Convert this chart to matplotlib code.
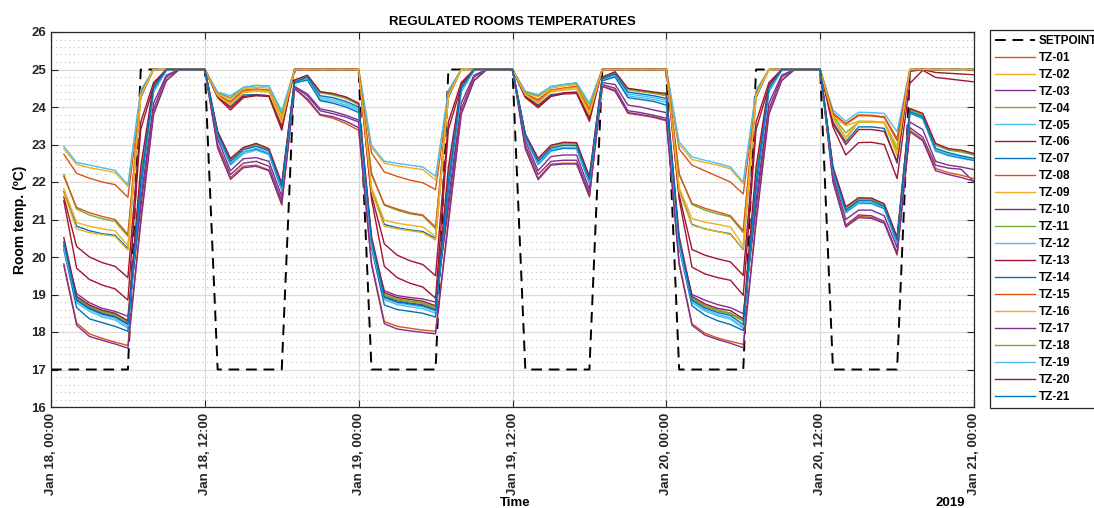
import matplotlib
matplotlib.use("Agg")
import matplotlib.pyplot as plt
import matplotlib.dates as mdates
from matplotlib.ticker import MultipleLocator
import pandas as pd

plt.rcParams['font.family'] = ['Liberation Sans', 'DejaVu Sans']
plt.rcParams['font.weight'] = 'bold'

# hourly room temperatures, Jan 18 01:00 .. Jan 21 00:00 (72 values each)
tz01 = [22.74, 22.23, 22.10, 22.00, 21.93, 21.59, 24.30, 25.0, 25.0, 25.0, 25.0, 25.0,
        24.32, 24.15, 24.45, 24.48, 24.45, 23.65, 25.0, 25.0, 25.0, 25.0, 25.0, 25.0,
        22.78, 22.27, 22.15, 22.05, 21.98, 21.80, 24.30, 25.0, 25.0, 25.0, 25.0, 25.0,
        24.35, 24.20, 24.45, 24.50, 24.55, 23.95, 25.0, 25.0, 25.0, 25.0, 25.0, 25.0,
        22.88, 22.45, 22.30, 22.15, 22.00, 21.68, 24.30, 25.0, 25.0, 25.0, 25.0, 25.0,
        23.80, 23.56, 23.79, 23.78, 23.74, 23.16, 25.0, 25.0, 25.0, 25.0, 25.0, 25.0]
tz02 = [22.88, 22.47, 22.38, 22.32, 22.25, 21.88, 24.40, 25.0, 25.0, 25.0, 25.0, 25.0,
        24.35, 24.22, 24.48, 24.53, 24.50, 23.75, 25.0, 25.0, 25.0, 25.0, 25.0, 25.0,
        22.92, 22.50, 22.43, 22.38, 22.33, 22.05, 24.40, 25.0, 25.0, 25.0, 25.0, 25.0,
        24.38, 24.27, 24.50, 24.56, 24.60, 24.02, 25.0, 25.0, 25.0, 25.0, 25.0, 25.0,
        23.00, 22.60, 22.52, 22.45, 22.35, 21.95, 24.40, 25.0, 25.0, 25.0, 25.0, 25.0,
        23.75, 23.50, 23.62, 23.62, 23.60, 22.95, 25.0, 25.0, 25.0, 25.0, 25.0, 25.0]
tz03 = [20.30, 18.88, 18.65, 18.50, 18.42, 18.20, 21.50, 24.10, 24.85, 25.0, 25.0, 25.0,
        23.15, 22.30, 22.62, 22.65, 22.55, 21.62, 24.55, 24.35, 23.95, 23.88, 23.78, 23.65,
        20.35, 18.95, 18.83, 18.77, 18.73, 18.60, 21.50, 24.10, 24.85, 25.0, 25.0, 25.0,
        23.10, 22.30, 22.68, 22.72, 22.72, 21.80, 24.65, 24.60, 24.05, 24.00, 23.92, 23.85,
        20.35, 18.90, 18.70, 18.58, 18.50, 18.30, 21.50, 24.10, 24.85, 25.0, 25.0, 25.0,
        22.20, 21.00, 21.25, 21.25, 21.10, 20.25, 23.60, 23.40, 22.55, 22.45, 22.40, 22.33]
tz04 = [22.20, 21.28, 21.12, 21.02, 20.95, 20.55, 24.40, 25.0, 25.0, 25.0, 25.0, 25.0,
        24.38, 24.25, 24.52, 24.58, 24.56, 23.83, 25.0, 25.0, 25.0, 25.0, 25.0, 25.0,
        22.25, 21.38, 21.25, 21.15, 21.10, 20.75, 24.40, 25.0, 25.0, 25.0, 25.0, 25.0,
        24.40, 24.30, 24.55, 24.60, 24.63, 24.08, 25.0, 25.0, 25.0, 25.0, 25.0, 25.0,
        22.23, 21.40, 21.25, 21.15, 21.07, 20.65, 24.40, 25.0, 25.0, 25.0, 25.0, 25.0,
        23.75, 23.31, 23.60, 23.60, 23.58, 22.85, 25.0, 25.0, 25.0, 25.0, 25.0, 25.0]
tz05 = [22.95, 22.52, 22.45, 22.38, 22.31, 21.93, 24.45, 25.0, 25.0, 25.0, 25.0, 25.0,
        24.40, 24.30, 24.52, 24.57, 24.55, 23.90, 25.0, 25.0, 25.0, 25.0, 25.0, 25.0,
        22.98, 22.55, 22.50, 22.45, 22.40, 22.15, 24.45, 25.0, 25.0, 25.0, 25.0, 25.0,
        24.42, 24.33, 24.54, 24.60, 24.65, 24.10, 25.0, 25.0, 25.0, 25.0, 25.0, 25.0,
        23.07, 22.67, 22.58, 22.50, 22.40, 22.00, 24.45, 25.0, 25.0, 25.0, 25.0, 25.0,
        23.92, 23.62, 23.86, 23.85, 23.83, 23.34, 25.0, 25.0, 25.0, 25.0, 25.0, 25.0]
tz06 = [21.60, 20.28, 20.00, 19.85, 19.75, 19.45, 23.60, 24.65, 25.0, 25.0, 25.0, 25.0,
        24.25, 23.92, 24.25, 24.30, 24.28, 23.38, 25.0, 25.0, 25.0, 25.0, 25.0, 25.0,
        21.65, 20.35, 20.05, 19.90, 19.80, 19.50, 23.60, 24.65, 25.0, 25.0, 25.0, 25.0,
        24.25, 23.98, 24.28, 24.35, 24.36, 23.62, 25.0, 25.0, 25.0, 25.0, 25.0, 25.0,
        21.65, 20.20, 20.05, 19.95, 19.87, 19.51, 23.60, 24.65, 25.0, 25.0, 25.0, 25.0,
        23.47, 22.72, 23.05, 23.06, 23.00, 22.09, 24.63, 24.98, 24.79, 24.75, 24.71, 24.67]
tz07 = [21.75, 20.82, 20.70, 20.62, 20.58, 20.22, 24.25, 25.0, 25.0, 25.0, 25.0, 25.0,
        24.28, 24.02, 24.32, 24.33, 24.30, 23.50, 25.0, 25.0, 25.0, 25.0, 25.0, 25.0,
        21.80, 20.87, 20.78, 20.72, 20.68, 20.50, 24.25, 25.0, 25.0, 25.0, 25.0, 25.0,
        24.30, 24.05, 24.33, 24.36, 24.38, 23.72, 25.0, 25.0, 25.0, 25.0, 25.0, 25.0,
        21.80, 20.87, 20.75, 20.68, 20.62, 20.20, 24.25, 25.0, 25.0, 25.0, 25.0, 25.0,
        23.60, 23.07, 23.47, 23.47, 23.43, 22.50, 25.0, 25.0, 25.0, 25.0, 25.0, 25.0]
tz08 = [22.15, 21.32, 21.18, 21.08, 21.00, 20.60, 24.35, 25.0, 25.0, 25.0, 25.0, 25.0,
        24.30, 24.10, 24.42, 24.47, 24.44, 23.60, 25.0, 25.0, 25.0, 25.0, 25.0, 25.0,
        22.20, 21.40, 21.28, 21.18, 21.12, 20.80, 24.35, 25.0, 25.0, 25.0, 25.0, 25.0,
        24.33, 24.15, 24.45, 24.50, 24.55, 23.90, 25.0, 25.0, 25.0, 25.0, 25.0, 25.0,
        22.20, 21.43, 21.30, 21.20, 21.10, 20.70, 24.35, 25.0, 25.0, 25.0, 25.0, 25.0,
        23.85, 23.54, 23.77, 23.76, 23.72, 23.10, 25.0, 25.0, 25.0, 25.0, 25.0, 25.0]
tz09 = [21.82, 20.92, 20.82, 20.75, 20.70, 20.30, 24.30, 25.0, 25.0, 25.0, 25.0, 25.0,
        24.30, 24.08, 24.40, 24.45, 24.42, 23.62, 25.0, 25.0, 25.0, 25.0, 25.0, 25.0,
        21.85, 20.98, 20.90, 20.85, 20.80, 20.55, 24.30, 25.0, 25.0, 25.0, 25.0, 25.0,
        24.33, 24.12, 24.43, 24.48, 24.52, 23.85, 25.0, 25.0, 25.0, 25.0, 25.0, 25.0,
        21.85, 21.03, 20.93, 20.87, 20.80, 20.30, 24.30, 25.0, 25.0, 25.0, 25.0, 25.0,
        23.70, 23.13, 23.60, 23.60, 23.58, 22.70, 25.0, 25.0, 25.0, 25.0, 25.0, 25.0]
tz10 = [20.30, 19.02, 18.78, 18.63, 18.55, 18.42, 21.30, 23.95, 24.80, 25.0, 25.0, 25.0,
        23.00, 22.20, 22.50, 22.55, 22.42, 21.50, 24.52, 24.30, 23.90, 23.82, 23.73, 23.60,
        20.35, 19.10, 18.97, 18.92, 18.88, 18.80, 21.30, 23.95, 24.80, 25.0, 25.0, 25.0,
        22.98, 22.20, 22.55, 22.58, 22.58, 21.70, 24.60, 24.50, 23.90, 23.85, 23.78, 23.70,
        20.35, 19.00, 18.85, 18.73, 18.65, 18.49, 21.30, 23.95, 24.80, 25.0, 25.0, 25.0,
        22.10, 20.85, 21.12, 21.10, 20.95, 20.10, 23.45, 23.20, 22.45, 22.37, 22.34, 22.00]
tz11 = [20.40, 18.92, 18.70, 18.55, 18.47, 18.27, 22.20, 24.55, 25.0, 25.0, 25.0, 25.0,
        23.33, 22.60, 22.90, 23.00, 22.87, 21.92, 24.70, 24.83, 24.40, 24.34, 24.25, 24.08,
        20.45, 19.00, 18.88, 18.83, 18.78, 18.66, 22.20, 24.55, 25.0, 25.0, 25.0, 25.0,
        23.26, 22.60, 22.96, 23.04, 23.03, 22.12, 24.78, 24.92, 24.48, 24.43, 24.38, 24.33,
        20.45, 18.90, 18.70, 18.58, 18.50, 18.31, 22.20, 24.55, 25.0, 25.0, 25.0, 25.0,
        22.38, 21.30, 21.55, 21.55, 21.40, 20.50, 23.94, 23.80, 23.00, 22.87, 22.83, 22.74]
tz12 = [20.22, 18.78, 18.55, 18.40, 18.32, 18.10, 21.90, 24.40, 24.97, 25.0, 25.0, 25.0,
        23.25, 22.45, 22.75, 22.85, 22.73, 21.77, 24.63, 24.74, 24.20, 24.15, 24.05, 23.90,
        20.27, 18.86, 18.73, 18.67, 18.62, 18.50, 21.90, 24.40, 24.97, 25.0, 25.0, 25.0,
        23.20, 22.46, 22.82, 22.90, 22.88, 21.96, 24.70, 24.82, 24.30, 24.25, 24.20, 24.12,
        20.27, 18.78, 18.56, 18.43, 18.34, 18.10, 21.90, 24.40, 24.97, 25.0, 25.0, 25.0,
        22.27, 21.18, 21.43, 21.42, 21.28, 20.36, 23.83, 23.69, 22.82, 22.70, 22.63, 22.57]
tz13 = [21.50, 19.70, 19.40, 19.25, 19.15, 18.85, 23.40, 24.55, 25.0, 25.0, 25.0, 25.0,
        24.28, 23.98, 24.28, 24.32, 24.30, 23.45, 25.0, 25.0, 25.0, 25.0, 25.0, 25.0,
        21.55, 19.75, 19.45, 19.30, 19.20, 18.90, 23.40, 24.55, 25.0, 25.0, 25.0, 25.0,
        24.28, 24.02, 24.30, 24.38, 24.40, 23.68, 25.0, 25.0, 25.0, 25.0, 25.0, 25.0,
        21.55, 19.73, 19.55, 19.45, 19.38, 18.98, 23.40, 24.55, 25.0, 25.0, 25.0, 25.0,
        23.55, 23.00, 23.40, 23.40, 23.35, 22.55, 24.95, 25.0, 24.92, 24.90, 24.88, 24.86]
tz14 = [20.20, 18.65, 18.35, 18.25, 18.15, 18.02, 21.80, 24.45, 24.98, 25.0, 25.0, 25.0,
        23.25, 22.48, 22.80, 22.88, 22.76, 21.80, 24.64, 24.72, 24.17, 24.10, 24.00, 23.85,
        20.25, 18.72, 18.60, 18.55, 18.50, 18.40, 21.80, 24.45, 24.98, 25.0, 25.0, 25.0,
        23.20, 22.48, 22.84, 22.90, 22.90, 21.98, 24.70, 24.80, 24.25, 24.20, 24.15, 24.05,
        20.25, 18.70, 18.45, 18.30, 18.20, 18.04, 21.80, 24.45, 24.98, 25.0, 25.0, 25.0,
        22.28, 21.20, 21.45, 21.44, 21.30, 20.38, 23.84, 23.70, 22.85, 22.72, 22.65, 22.58]
tz15 = [19.82, 18.24, 17.95, 17.83, 17.73, 17.64, 21.00, 23.85, 24.72, 25.0, 25.0, 25.0,
        22.95, 22.12, 22.42, 22.45, 22.32, 21.38, 24.50, 24.18, 23.78, 23.70, 23.56, 23.38,
        19.85, 18.28, 18.15, 18.10, 18.05, 18.02, 21.00, 23.85, 24.72, 25.0, 25.0, 25.0,
        22.92, 22.10, 22.48, 22.50, 22.50, 21.60, 24.56, 24.45, 23.83, 23.78, 23.72, 23.63,
        19.85, 18.22, 17.97, 17.84, 17.75, 17.67, 21.00, 23.85, 24.72, 25.0, 25.0, 25.0,
        22.05, 20.82, 21.08, 21.06, 20.92, 20.05, 23.38, 23.14, 22.36, 22.25, 22.18, 22.09]
tz16 = [21.70, 20.75, 20.65, 20.60, 20.55, 20.18, 24.30, 25.0, 25.0, 25.0, 25.0, 25.0,
        24.30, 24.05, 24.38, 24.42, 24.40, 23.58, 25.0, 25.0, 25.0, 25.0, 25.0, 25.0,
        21.75, 20.82, 20.75, 20.70, 20.65, 20.45, 24.30, 25.0, 25.0, 25.0, 25.0, 25.0,
        24.32, 24.10, 24.40, 24.45, 24.48, 23.80, 25.0, 25.0, 25.0, 25.0, 25.0, 25.0,
        21.75, 20.85, 20.75, 20.68, 20.60, 20.22, 24.30, 25.0, 25.0, 25.0, 25.0, 25.0,
        23.72, 23.20, 23.62, 23.61, 23.60, 22.75, 25.0, 25.0, 25.0, 25.0, 25.0, 25.0]
tz17 = [19.78, 18.18, 17.88, 17.78, 17.68, 17.57, 20.90, 23.80, 24.70, 25.0, 25.0, 25.0,
        22.90, 22.07, 22.38, 22.42, 22.30, 21.42, 24.48, 24.22, 23.80, 23.74, 23.62, 23.45,
        19.80, 18.22, 18.08, 18.03, 17.99, 17.95, 20.90, 23.80, 24.70, 25.0, 25.0, 25.0,
        22.88, 22.06, 22.45, 22.48, 22.48, 21.62, 24.55, 24.42, 23.85, 23.80, 23.74, 23.65,
        19.80, 18.18, 17.92, 17.80, 17.70, 17.58, 20.90, 23.80, 24.70, 25.0, 25.0, 25.0,
        22.00, 20.80, 21.05, 21.03, 20.90, 20.08, 23.34, 23.10, 22.30, 22.20, 22.12, 22.02]
tz18 = [20.35, 18.90, 18.68, 18.53, 18.45, 18.25, 22.15, 24.55, 25.0, 25.0, 25.0, 25.0,
        23.32, 22.58, 22.88, 22.98, 22.85, 21.90, 24.69, 24.81, 24.38, 24.32, 24.23, 24.06,
        20.40, 18.98, 18.86, 18.80, 18.76, 18.63, 22.15, 24.55, 25.0, 25.0, 25.0, 25.0,
        23.25, 22.58, 22.94, 23.02, 23.01, 22.10, 24.77, 24.90, 24.46, 24.41, 24.36, 24.30,
        20.40, 18.88, 18.68, 18.56, 18.48, 18.29, 22.15, 24.55, 25.0, 25.0, 25.0, 25.0,
        22.36, 21.28, 21.53, 21.53, 21.38, 20.48, 23.92, 23.78, 22.98, 22.85, 22.80, 22.72]
tz19 = [20.25, 18.82, 18.60, 18.45, 18.37, 18.15, 22.00, 24.45, 24.98, 25.0, 25.0, 25.0,
        23.28, 22.50, 22.80, 22.90, 22.78, 21.82, 24.65, 24.77, 24.25, 24.20, 24.10, 23.95,
        20.30, 18.90, 18.77, 18.72, 18.67, 18.55, 22.00, 24.45, 24.98, 25.0, 25.0, 25.0,
        23.22, 22.50, 22.86, 22.93, 22.92, 22.00, 24.73, 24.85, 24.35, 24.30, 24.25, 24.18,
        20.30, 18.82, 18.60, 18.47, 18.38, 18.13, 22.00, 24.45, 24.98, 25.0, 25.0, 25.0,
        22.30, 21.22, 21.46, 21.46, 21.32, 20.40, 23.86, 23.72, 22.86, 22.74, 22.67, 22.60]
tz20 = [20.52, 18.95, 18.72, 18.58, 18.50, 18.30, 22.40, 24.60, 25.0, 25.0, 25.0, 25.0,
        23.35, 22.63, 22.92, 23.03, 22.89, 21.96, 24.72, 24.85, 24.41, 24.36, 24.27, 24.10,
        20.55, 19.05, 18.92, 18.87, 18.82, 18.70, 22.40, 24.60, 25.0, 25.0, 25.0, 25.0,
        23.28, 22.63, 22.98, 23.06, 23.05, 22.15, 24.80, 24.94, 24.50, 24.45, 24.40, 24.36,
        20.55, 18.95, 18.75, 18.63, 18.57, 18.35, 22.40, 24.60, 25.0, 25.0, 25.0, 25.0,
        22.40, 21.34, 21.58, 21.57, 21.42, 20.53, 23.96, 23.83, 23.03, 22.89, 22.85, 22.76]
tz21 = [20.40, 18.85, 18.62, 18.48, 18.40, 18.22, 22.00, 24.50, 25.0, 25.0, 25.0, 25.0,
        23.30, 22.55, 22.86, 22.95, 22.83, 21.88, 24.66, 24.80, 24.30, 24.25, 24.15, 24.00,
        20.45, 18.93, 18.80, 18.75, 18.70, 18.58, 22.00, 24.50, 25.0, 25.0, 25.0, 25.0,
        23.24, 22.55, 22.90, 22.98, 22.97, 22.06, 24.75, 24.88, 24.40, 24.35, 24.30, 24.23,
        20.45, 18.85, 18.64, 18.52, 18.44, 18.20, 22.00, 24.50, 25.0, 25.0, 25.0, 25.0,
        22.33, 21.25, 21.50, 21.50, 21.35, 20.45, 23.88, 23.74, 22.90, 22.78, 22.70, 22.63]

# setpoint, Jan 18 00:00 .. Jan 21 00:00 (73 values)
setpoint = [17,
            17, 17, 17, 17, 17, 17, 25, 25, 25, 25, 25, 25,
            17, 17, 17, 17, 17, 17, 25, 25, 25, 25, 25, 25,
            17, 17, 17, 17, 17, 17, 25, 25, 25, 25, 25, 25,
            17, 17, 17, 17, 17, 17, 25, 25, 25, 25, 25, 25,
            17, 17, 17, 17, 17, 17, 25, 25, 25, 25, 25, 25,
            17, 17, 17, 17, 17, 17, 25, 25, 25, 25, 25, 25]

zones = [tz01, tz02, tz03, tz04, tz05, tz06, tz07, tz08, tz09, tz10, tz11,
         tz12, tz13, tz14, tz15, tz16, tz17, tz18, tz19, tz20, tz21]
labels = ['TZ-%02d' % (i + 1) for i in range(len(zones))]
colors = ['#D95319', '#EDB120', '#7E2F8E', '#77AC30', '#4DBEEE', '#A2142F', '#0072BD']

t_sp = pd.date_range('2019-01-18 00:00', periods=73, freq='h')
t = t_sp[1:]

fig = plt.figure(figsize=(10.94, 5.08), dpi=100)
ax = fig.add_axes([51/1094, 1 - 407/508, 923/1094, 375/508])

ax.plot(t_sp, setpoint, color='k', lw=1.4, ls=(0, (5.5, 3.5)), label='SETPOINT')
for i, z in enumerate(zones):
    ax.plot(t, z, color=colors[i % 7], lw=1.0, label=labels[i])

ax.set_xlim(pd.Timestamp('2019-01-18 00:00'), pd.Timestamp('2019-01-21 00:00'))
ax.set_ylim(16, 26)
ax.xaxis.set_major_locator(mdates.HourLocator(byhour=[0, 12]))
ax.xaxis.set_major_formatter(mdates.DateFormatter('%b %d, %H:%M'))
ax.yaxis.set_major_locator(MultipleLocator(1))
ax.yaxis.set_minor_locator(MultipleLocator(0.2))
ax.tick_params(axis='x', which='major', labelrotation=90, labelsize=9.5, direction='in',
               length=5, top=True, colors='#262626', pad=4)
ax.tick_params(axis='y', which='major', labelsize=9.5, direction='in', length=5,
               right=True, colors='#262626')
ax.tick_params(axis='y', which='minor', length=0)
for lab in ax.get_xticklabels() + ax.get_yticklabels():
    lab.set_fontweight('bold')

ax.grid(which='major', color='#dcdcdc', lw=0.9, ls='-')
ax.grid(which='minor', axis='y', color='#c4c4c4', lw=0.8, ls=(0, (1, 3)))
ax.set_axisbelow(True)
for s in ax.spines.values():
    s.set_color('#262626')
    s.set_linewidth(0.9)

ax.set_title('REGULATED ROOMS TEMPERATURES', fontsize=9.5, fontweight='bold', pad=5)
ax.set_ylabel('Room temp. (ºC)', fontsize=10, fontweight='bold', labelpad=3)
fig.text(515/1094, 1 - 503/508, 'Time', ha='center', va='center', fontsize=9.5, fontweight='bold')
fig.text(950/1094, 1 - 503/508, '2019', ha='center', va='center', fontsize=9.5, fontweight='bold')

# legend sits just right of the axes; the reference crops it at the figure edge
leg = ax.legend(loc='upper left', bbox_to_anchor=((990 - 51) / 923, (407 - 30) / 375),
                prop={'weight': 'bold', 'size': 8.5}, frameon=True, fancybox=False,
                edgecolor='#262626', framealpha=1, handlelength=3.4, handletextpad=0.3,
                labelspacing=0.42, borderpad=0.4, borderaxespad=0)
leg.get_frame().set_linewidth(0.9)

fig.savefig('out.png', dpi=100)
